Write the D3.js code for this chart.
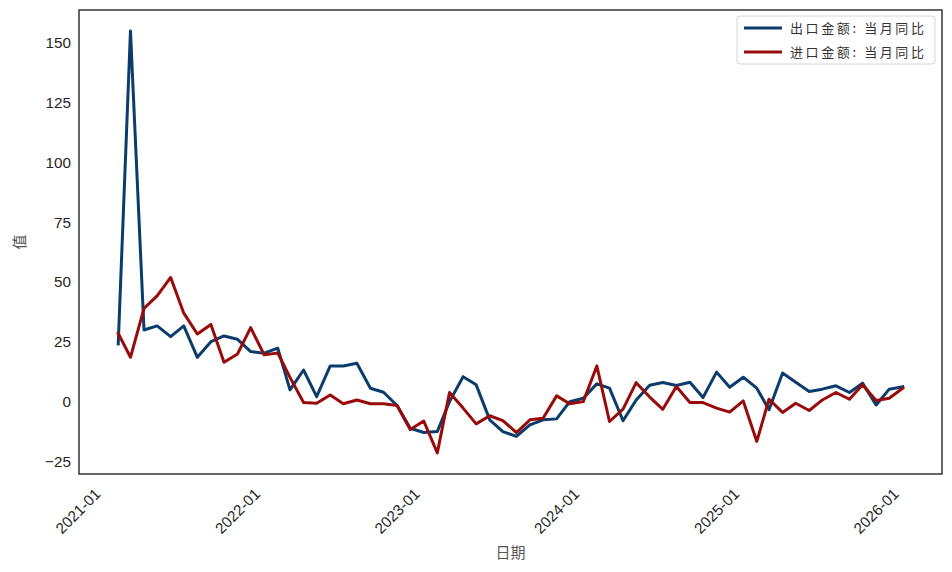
<!DOCTYPE html>
<html>
<head>
<meta charset="utf-8">
<script src="https://cdn.jsdelivr.net/npm/d3@7"></script>
<style>
  html, body { margin: 0; padding: 0; background: #ffffff; }
  svg { display: block; }
</style>
</head>
<body>
<svg id="chart" width="952" height="572"></svg>
<script>
// ---- data ----
const startMonth = "2021-01";
const endMonth = "2025-12";
const seriesNames = ["出口金额: 当月同比", "进口金额: 当月同比"];
const seriesColors = ["#0b3c6c", "#990a0a"];
const exportYoY = [
  24.2, 154.7, 30.0, 31.7, 27.2, 31.7, 18.6, 25.1, 27.5, 26.1, 21.0, 20.3,
  22.4, 5.0, 13.3, 2.2, 15.0, 15.0, 16.1, 5.7, 4.0, -1.5, -11.0, -12.8,
  -12.4, 0.1, 10.5, 7.1, -7.5, -12.4, -14.4, -9.6, -7.5, -7.1, 0.1, 1.5,
  7.5, 5.7, -7.9, 0.8, 6.9, 8.1, 6.8, 8.2, 1.8, 12.4, 6.1, 10.3,
  5.7, -3.3, 12.0, 8.2, 4.3, 5.3, 6.7, 3.9, 7.8, -1.3, 5.3, 6.3
];
const importYoY = [
  28.6, 18.6, 39.0, 44.2, 51.9, 37.0, 28.3, 32.3, 16.5, 20.0, 31.0, 19.6,
  20.4, 10.2, -0.3, -0.6, 2.9, -0.8, 0.8, -0.8, -0.8, -1.5, -11.5, -8.0,
  -21.3, 3.9, -2.6, -9.2, -5.8, -7.8, -12.8, -7.5, -6.8, 2.5, -0.8, 0.1,
  15.0, -8.2, -3.0, 8.0, 2.0, -3.1, 6.4, -0.3, -0.3, -2.6, -4.3, 0.4,
  -16.5, 1.1, -4.4, -0.6, -3.6, 0.8, 3.9, 1.1, 7.1, 0.6, 1.5, 5.7
];
const yTickValues = [-25, 0, 25, 50, 75, 100, 125, 150];
const xTickLabels = ["2021-01", "2022-01", "2023-01", "2024-01", "2025-01", "2026-01"];
const xTitle = "日期";
const yTitle = "值";

// month-end dates (data points are stamped at the end of each month)
const parseM = d3.timeParse("%Y-%m");
const monthStarts = d3.timeMonth.range(parseM(startMonth), d3.timeMonth.offset(parseM(endMonth), 1));
const dates = monthStarts.map(d => d3.timeDay.offset(d3.timeMonth.offset(d, 1), -1));

const series = [exportYoY, importYoY].map((vals, k) => ({
  name: seriesNames[k], color: seriesColors[k],
  values: vals.map((v, i) => ({ date: dates[i], value: v }))
}));

// ---- layout ----
const svg = d3.select("#chart");
const M = { left: 79, top: 10, right: 942, bottom: 474 };

// matplotlib-like 5% margins
const xExt = d3.extent(dates);
const xPad = (xExt[1] - xExt[0]) * 0.05;
const x = d3.scaleTime()
  .domain([new Date(+xExt[0] - xPad), new Date(+xExt[1] + xPad)])
  .range([M.left, M.right]);

const allVals = exportYoY.concat(importYoY);
const yExt = d3.extent(allVals);
const yPad = (yExt[1] - yExt[0]) * 0.05;
const y = d3.scaleLinear()
  .domain([yExt[0] - yPad, yExt[1] + yPad])
  .range([M.bottom, M.top]);

const numFont = "'Liberation Sans', Arial, sans-serif";
const cjkFont = "'Noto Sans CJK SC', sans-serif";

// y axis (no tick marks, labels only)
const yAxis = d3.axisLeft(y).tickValues(yTickValues).tickSize(0).tickPadding(8)
  .tickFormat(d => d < 0 ? "\u2212" + Math.abs(d) : String(d));
const gy = svg.append("g").attr("transform", `translate(${M.left},0)`).call(yAxis);
gy.select(".domain").remove();
gy.selectAll("text")
  .attr("font-family", numFont).attr("font-size", "15.3px").attr("fill", "#262626");

// x axis (rotated labels)
const xTicks = xTickLabels.map(s => parseM(s));
const xAxis = d3.axisBottom(x).tickValues(xTicks).tickSize(0).tickFormat(d3.timeFormat("%Y-%m"));
const gx = svg.append("g").attr("transform", `translate(0,${M.bottom})`).call(xAxis);
gx.select(".domain").remove();
gx.selectAll("text")
  .attr("font-family", numFont).attr("font-size", "15.3px").attr("fill", "#262626")
  .attr("text-anchor", "end")
  .attr("dy", null).attr("y", null)
  .attr("transform", "translate(-4,21) rotate(-45)");

// lines
svg.append("clipPath").attr("id", "plotclip")
  .append("rect").attr("x", M.left).attr("y", M.top)
  .attr("width", M.right - M.left).attr("height", M.bottom - M.top);
const line = d3.line().x(d => x(d.date)).y(d => y(d.value));
svg.append("g").attr("clip-path", "url(#plotclip)")
  .selectAll("path").data(series).join("path")
  .attr("d", d => line(d.values))
  .attr("fill", "none")
  .attr("stroke", d => d.color)
  .attr("stroke-width", 3)
  .attr("stroke-linejoin", "round")
  .attr("stroke-linecap", "square");

// frame
svg.append("rect")
  .attr("x", M.left).attr("y", M.top)
  .attr("width", M.right - M.left).attr("height", M.bottom - M.top)
  .attr("fill", "none").attr("stroke", "#262626").attr("stroke-width", 1.4);

// axis titles
svg.append("text")
  .attr("x", (M.left + M.right) / 2).attr("y", 558)
  .attr("text-anchor", "middle")
  .attr("font-family", cjkFont).attr("font-size", "15px").attr("fill", "#555")
  .text(xTitle);
svg.append("text")
  .attr("transform", `translate(25,${(M.top + M.bottom) / 2}) rotate(-90)`)
  .attr("text-anchor", "middle")
  .attr("font-family", cjkFont).attr("font-size", "15px").attr("fill", "#555")
  .text(yTitle);

// legend
const lg = svg.append("g");
lg.append("rect")
  .attr("x", 737).attr("y", 16).attr("width", 198).attr("height", 48).attr("rx", 3)
  .attr("fill", "#ffffff").attr("fill-opacity", 0.8)
  .attr("stroke", "#d6d6d6").attr("stroke-width", 1);
series.forEach((s, i) => {
  const yy = 28 + i * 24;
  lg.append("line").attr("x1", 744).attr("x2", 782).attr("y1", yy).attr("y2", yy)
    .attr("stroke", s.color).attr("stroke-width", 3);
  lg.append("text").attr("x", 790).attr("y", yy + 5)
    .attr("font-family", cjkFont).attr("font-size", "13px").attr("fill", "#333")
    .attr("letter-spacing", "2.6px")
    .text(s.name);
});
</script>
</body>
</html>
